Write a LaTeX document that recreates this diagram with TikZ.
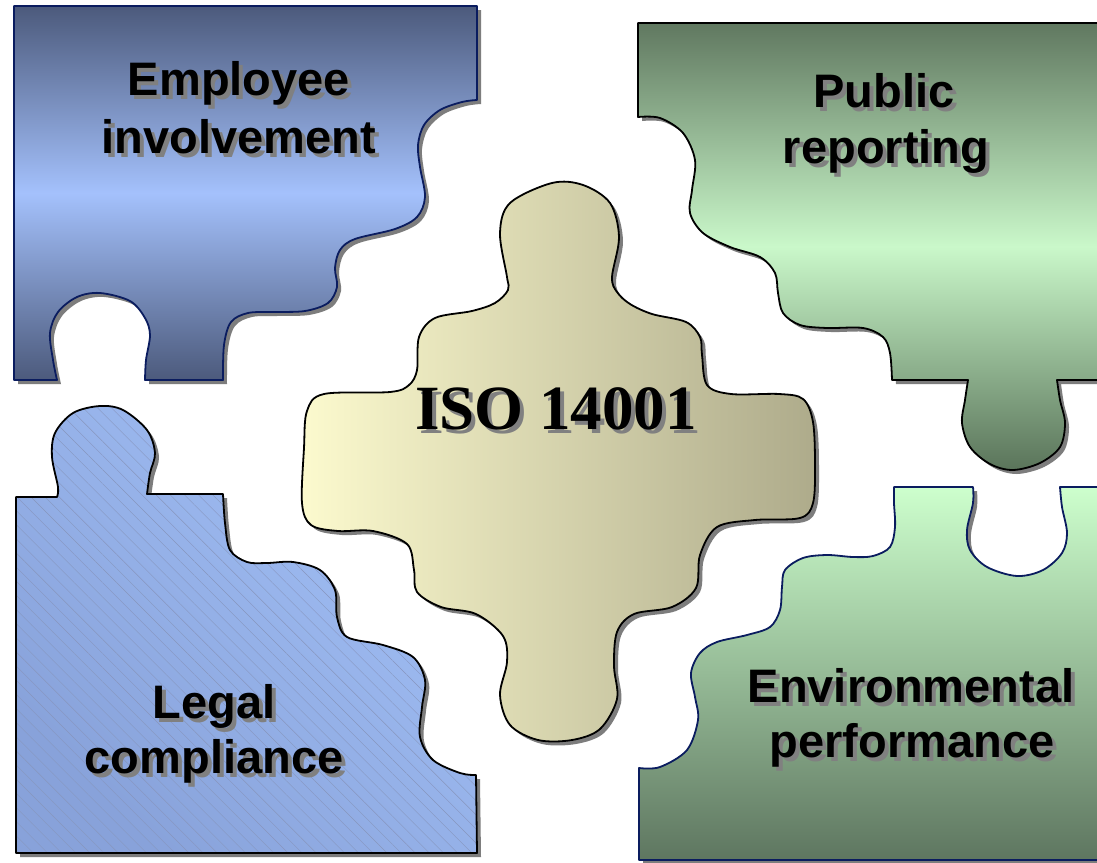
\documentclass[tikz,border=0pt]{standalone}
\usepackage{fontspec}
\setmainfont{Liberation Sans}
\newfontfamily\serifbold{Liberation Serif}
\usetikzlibrary{patterns.meta}
\definecolor{navy}{RGB}{10,28,95}
\definecolor{pshadow}{RGB}{125,125,125}
\definecolor{txtshadow}{RGB}{128,128,128}
\definecolor{empTop}{RGB}{76,90,124}
\definecolor{empMid}{RGB}{164,193,252}
\definecolor{empBot}{RGB}{76,90,124}
\definecolor{pubTop}{RGB}{96,120,96}
\definecolor{pubMid}{RGB}{202,248,202}
\definecolor{pubBot}{RGB}{90,116,90}
\definecolor{envTop}{RGB}{205,255,205}
\definecolor{envBot}{RGB}{94,118,96}
\definecolor{legLight}{RGB}{162,192,246}
\definecolor{legDark}{RGB}{136,162,218}
\definecolor{hatch}{RGB}{135,150,190}
\definecolor{isoLeft}{RGB}{252,250,206}
\definecolor{isoRight}{RGB}{174,171,139}
\def\pathEmp{(14,6) -- (477,6) -- (477,100)
  -- plot[smooth,tension=0.55] coordinates {(477,100) (462,102) (440,110) (424,125) (418,145) (420,167) (425,197) (417,217) (395,229) (355,239) (340,250) (335,268) (337,287) (328,303) (305,311) (273,312) (248,313) (231,322) (224,345) (223,380)}
  -- (145,380)
  -- plot[smooth,tension=0.55] coordinates {(145,380) (146,360) (150,335) (145,318) (130,301) (100,293) (77,297) (58,312) (50,333) (53,360) (57,380)}
  -- (14,380) -- cycle}
\def\pathPub{(638,23) -- (1115,23) -- (1115,380) -- (1057,380)
  -- plot[smooth,tension=0.55] coordinates {(1057,380) (1060,400) (1065,423) (1060,447) (1040,463) (1013,470) (990,464) (970,447) (962,423) (965,400) (968,380)}
  -- (892,380)
  -- plot[smooth,tension=0.55] coordinates {(892,380) (890,353) (883,337) (863,328) (827,328) (800,325) (783,313) (778,293) (775,273) (760,257) (730,247) (703,233) (690,213) (692,190) (695,160) (683,133) (660,118) (638,117)}
  -- cycle}
\def\pathLeg{(16,497) -- (57,497)
  -- plot[smooth,tension=0.55] coordinates {(57,497) (58,487) (52,457) (55,433) (73,413) (100,406) (123,410) (147,430) (155,453) (150,473) (147,494)}
  -- (223,494)
  -- plot[smooth,tension=0.55] coordinates {(223,494) (225,523) (230,550) (247,562) (267,563) (293,562) (320,570) (335,590) (337,617) (347,637) (383,645) (413,657) (425,680) (422,707) (420,737) (433,760) (460,773) (476,775)}
  -- (477,853) -- (16,853) -- cycle}
\def\pathEnv{(639,860) -- (639,768)
  -- plot[smooth,tension=0.55] coordinates {(639,768) (660,767) (687,750) (698,720) (695,697) (691,673) (700,653) (717,642) (747,635) (770,627) (780,610) (782,587) (785,570) (803,558) (827,555) (853,557) (873,556) (890,547) (895,527) (894,503) (894,487)}
  -- (973,487)
  -- plot[smooth,tension=0.55] coordinates {(973,487) (973,503) (967,530) (970,550) (987,567) (1017,576) (1043,570) (1062,553) (1067,533) (1062,507) (1060,487)}
  -- (1115,487) -- (1115,860) -- cycle}
\def\pathIso{plot[smooth cycle,tension=0.55] coordinates {(552,183) (583,185) (610,203) (619,237) (612,277) (617,292) (630,304) (652,314) (686,322) (700,337) (702,355) (707,385) (731,394) (779,394) (803,399) (813,422) (815,466) (813,503) (800,518) (755,520) (717,527) (700,555) (696,588) (672,607) (634,614) (617,632) (614,666) (617,699) (600,729) (572,740) (538,740) (510,725) (500,695) (507,662) (503,636) (476,614) (441,607) (417,592) (414,570) (407,544) (373,531) (338,531) (311,525) (302,503) (304,448) (307,411) (324,394) (390,392) (409,385) (417,370) (419,337) (435,318) (472,311) (495,303) (508,290) (507,277) (500,233) (510,203)}}
\tikzset{
  lbl/.style={anchor=base, inner sep=0pt, font=\fontsize{47}{56}\selectfont\bfseries},
  lblshadow/.style={lbl, text=txtshadow},
  isolbl/.style={anchor=base, inner sep=0pt, font=\serifbold\fontsize{63}{70}\selectfont\bfseries},
  isoshadow/.style={isolbl, text=txtshadow},
  pieceshadow/.style={fill=pshadow, shift={(4,4)}},
  navyedge/.style={draw=navy, line width=1.8pt, line join=round},
  blackedge/.style={draw=black, line width=1.8pt, line join=round},
}
\begin{document}
\begin{tikzpicture}[x=1pt,y=-1pt]
\useasboundingbox (0,0) rectangle (1097,862);
\fill[white] (0,0) rectangle (1097,862);
% shadows
\fill[pieceshadow] \pathEmp;
\fill[pieceshadow] \pathPub;
\fill[pieceshadow] \pathLeg;
\fill[pieceshadow] \pathEnv;
\fill[pieceshadow] \pathIso;
% employee involvement
\shade[top color=empTop, bottom color=empBot, middle color=empMid] \pathEmp;
\draw[navyedge] \pathEmp;
% public reporting
\shade[top color=pubTop, bottom color=pubBot, middle color=pubMid] \pathPub;
\draw[blackedge] \pathPub;
% legal compliance
\shade[top color=legLight, bottom color=legDark, shading angle=-45] \pathLeg;
\fill[pattern={Lines[angle=-45,distance=10pt,line width=0.4pt]}, pattern color=hatch, fill opacity=0.22] \pathLeg;
\draw[blackedge] \pathLeg;
% environmental performance
\shade[top color=envTop, bottom color=envBot] \pathEnv;
\draw[navyedge] \pathEnv;
% ISO 14001
\shade[left color=isoLeft, right color=isoRight] \pathIso;
\draw[blackedge] \pathIso;
% labels
\node[lblshadow] (emp1s) at (243,99) {Employee};
\node[lbl] (emp1) at (239,95) {Employee};
\node[lblshadow] (emp2s) at (243,157) {involvement};
\node[lbl] (emp2) at (239,153) {involvement};
\node[lblshadow] (pub1s) at (888,111) {Public};
\node[lbl] (pub1) at (884,107) {Public};
\node[lblshadow] (pub2s) at (890,167) {reporting};
\node[lbl] (pub2) at (886,163) {reporting};
\node[isoshadow] (isos) at (560,433) {ISO 14001};
\node[isolbl] (iso) at (556,429) {ISO 14001};
\node[lblshadow] (leg1s) at (218,722) {Legal};
\node[lbl] (leg1) at (214,718) {Legal};
\node[lblshadow] (leg2s) at (218,777) {compliance};
\node[lbl] (leg2) at (214,773) {compliance};
\node[lblshadow] (env1s) at (915,706) {Environmental};
\node[lbl] (env1) at (911,702) {Environmental};
\node[lblshadow] (env2s) at (916,761) {performance};
\node[lbl] (env2) at (912,757) {performance};
\end{tikzpicture}
\end{document}
